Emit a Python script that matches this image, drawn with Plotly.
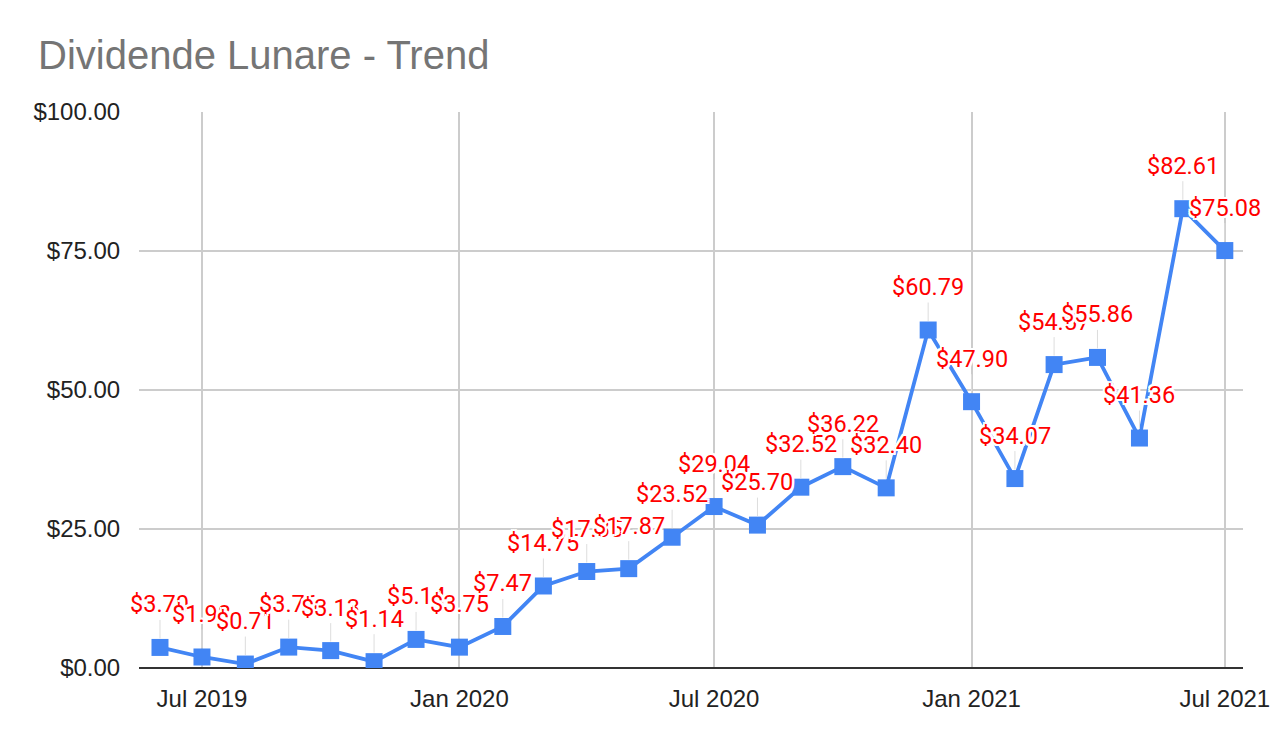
import plotly.graph_objects as go

# monthly dividend totals
months = [
    "2019-06-01", "2019-07-01", "2019-08-01", "2019-09-01", "2019-10-01",
    "2019-11-01", "2019-12-01", "2020-01-01", "2020-02-01", "2020-03-01",
    "2020-04-01", "2020-05-01", "2020-06-01", "2020-07-01", "2020-08-01",
    "2020-09-01", "2020-10-01", "2020-11-01", "2020-12-01", "2021-01-01",
    "2021-02-01", "2021-03-01", "2021-04-01", "2021-05-01", "2021-06-01",
    "2021-07-01",
]
dividends = [
    3.70, 1.98, 0.71, 3.76, 3.13, 1.14, 5.14, 3.75, 7.47, 14.75,
    17.35, 17.87, 23.52, 29.04, 25.70, 32.52, 36.22, 32.40, 60.79, 47.90,
    34.07, 54.57, 55.86, 41.36, 82.61, 75.08,
]
tick_dates = ["2019-07-01", "2020-01-01", "2020-07-01", "2021-01-01", "2021-07-01"]
tick_labels = ["Jul 2019", "Jan 2020", "Jul 2020", "Jan 2021", "Jul 2021"]

BLUE = "#4285F4"
halo = ("white 2px 0px 0px, white -2px 0px 0px, white 0px 2px 0px, white 0px -2px 0px, "
        "white 2px 2px 0px, white -2px -2px 0px, white 2px -2px 0px, white -2px 2px 0px")

# page has an 8px body margin, so the figure is drawn a bit smaller
W, H = 1274, 734

fig = go.Figure()
fig.add_trace(go.Scatter(
    x=months,
    y=dividends,
    mode="lines+markers",
    line=dict(color=BLUE, width=3.8),
    marker=dict(symbol="square", size=17, color=BLUE),
    showlegend=False,
    hovertemplate="%{x|%b %Y}: $%{y:.2f}<extra></extra>",
))

# value labels with thin stems, like the sheets chart
for d, v in zip(months, dividends):
    fig.add_annotation(
        x=d, y=v, text=f"${v:.2f}",
        showarrow=True, arrowhead=0, arrowwidth=1, arrowcolor="#dddddd",
        ax=0, ay=-43, standoff=9,
        font=dict(family="Roboto", size=23.5, color="#ff0000", shadow=halo),
    )

fig.update_layout(
    width=W,
    height=H,
    paper_bgcolor="white",
    plot_bgcolor="white",
    margin=dict(l=131, r=37, t=104, b=74),
    font=dict(family="Liberation Sans, Arial", size=24, color="#222222"),
    title=dict(
        text="Dividende Lunare - Trend",
        x=30 / W, xanchor="left", xref="container",
        y=1 - 47 / H, yanchor="middle", yref="container",
        font=dict(family="Liberation Sans, Arial", size=40, color="#757575"),
    ),
    xaxis=dict(
        type="date",
        range=["2019-05-17", "2021-07-14"],
        tickvals=tick_dates,
        ticktext=tick_labels,
        showgrid=True, gridcolor="#cccccc", gridwidth=1.5,
        ticks="outside", ticklen=9, tickcolor="rgba(0,0,0,0)",
        showline=False, zeroline=False,
    ),
    yaxis=dict(
        range=[0, 100],
        tickvals=[0, 25, 50, 75, 100],
        tickformat="$.2f",
        showgrid=True, gridcolor="#cccccc", gridwidth=1.5,
        ticks="outside", ticklen=13, tickcolor="rgba(0,0,0,0)",
        zeroline=True, zerolinecolor="#333333", zerolinewidth=2,
        showline=False,
    ),
)

fig.write_html("out.html")
